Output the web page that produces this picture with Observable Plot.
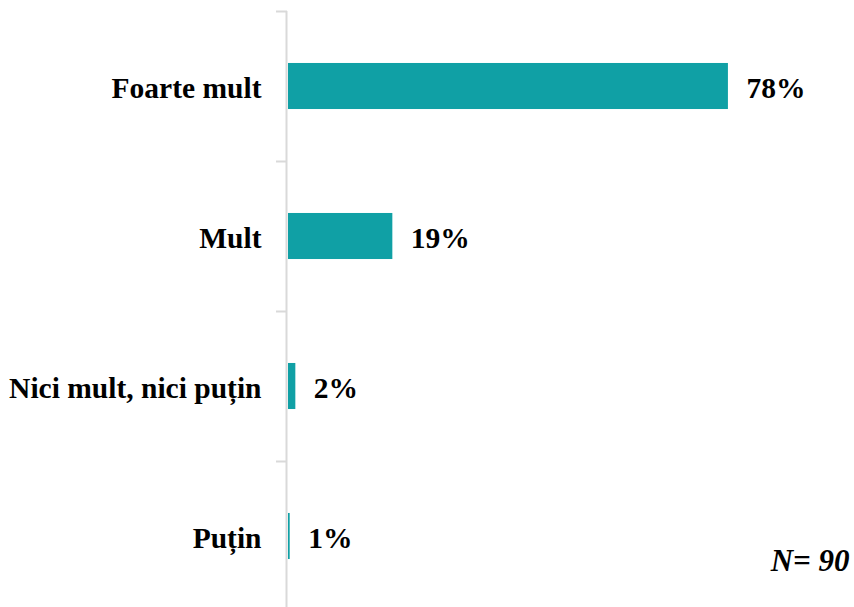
<!DOCTYPE html>
<html>
<head>
<meta charset="utf-8">
<script src="https://cdn.jsdelivr.net/npm/d3@7"></script>
<script src="https://cdn.jsdelivr.net/npm/@observablehq/plot@0.6"></script>
<style>
  html, body { margin: 0; padding: 0; background: #fff; overflow: hidden; }
  #chart svg { display: block; }
</style>
</head>
<body>
<div id="chart"></div>
<script>
const categories = ["Foarte mult", "Mult", "Nici mult, nici puțin", "Puțin"];
const values = [78, 18.5, 1.3, 0.3];
const valueLabels = ["78%", "19%", "2%", "1%"];
const caption = "N= 90";

const data = categories.map((c, i) => ({ cat: c, v: values[i], label: valueLabels[i] }));
const font = "'Liberation Serif', 'Times New Roman', serif";

const chart = Plot.plot({
  width: 854,
  height: 611,
  marginLeft: 288,
  marginRight: 2,
  marginTop: 11,
  marginBottom: 0,
  style: { fontFamily: font, background: "#fff", overflow: "visible" },
  x: { domain: [0, 100], axis: null },
  y: { domain: categories, paddingInner: 0.693, paddingOuter: 0.3465, round: false, label: null },
  marks: [
    Plot.ruleX([0], { stroke: "#d9d9d9", strokeWidth: 2, dx: -2 }),
    Plot.ruleY(categories, { y: d => d, x1: 0, x2: 0, dy: -75, insetLeft: -11, dx: -1, stroke: "#d9d9d9", strokeWidth: 2 }),
    Plot.barX(data, { y: "cat", x: "v", fill: "#10a0a5" }),
    Plot.text(data, { y: "cat", x: "v", text: "label", dx: 18, dy: 2, textAnchor: "start", fontSize: 29.5, fontWeight: "bold", fill: "#000" }),
    Plot.axisY({ tickSize: 0, tickPadding: 27, fontSize: 29.5, fontWeight: "bold", fill: "#000", label: null, dy: 2 }),
    Plot.text([caption], { frameAnchor: "bottom-right", dx: -3, dy: -41, fontSize: 31, fontWeight: "bold", fontStyle: "italic", fill: "#000" })
  ]
});
document.getElementById("chart").appendChild(chart);
</script>
</body>
</html>
